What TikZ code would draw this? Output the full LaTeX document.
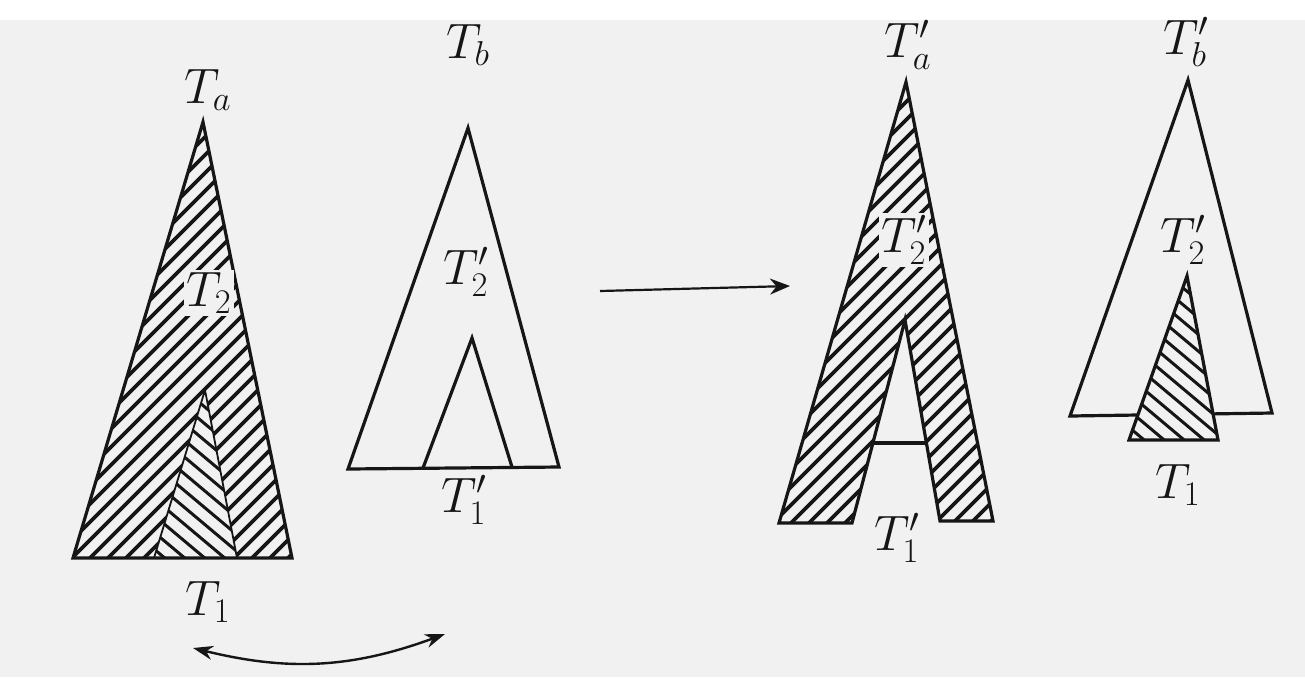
\documentclass[tikz,border=0pt]{standalone}
\usepackage{tikz}
\usetikzlibrary{positioning,calc,arrows.meta}
\usepackage{xcolor}
\definecolor{scanpaper}{RGB}{241,241,241}
\definecolor{inkblack}{RGB}{22,22,22}
\tikzset{
  treeline/.style={draw=inkblack,line width=1.6pt,line join=miter},
  thinedge/.style={draw=inkblack,line width=0.9pt},
  hatchfw/.style={draw=inkblack,line width=1.9pt},
  hatchbw/.style={draw=inkblack,line width=1.5pt},
  treelabel/.style={font=\fontsize{24}{28}\selectfont,text=inkblack,inner sep=1pt},
  swaparrow/.style={draw=inkblack,line width=1.2pt},
}
% hatching, to be used inside a clipped scope
\newcommand{\hatchfwd}{%
  \foreach \c in {0,18,...,1700} {\draw[hatchfw] (\c,0) -- ++(-700,700);}}
\newcommand{\hatchbwd}{%
  \foreach \c in {-800,-780,...,1400} {\draw[hatchbw] (\c,0) -- ++(766,643);}}

\begin{document}
\begin{tikzpicture}[x=0.5pt,y=-0.5pt]
  \useasboundingbox (0,0) rectangle (1305,677);
  \fill[white] (0,0) rectangle (1305,677);
  \fill[scanpaper] (0,20) rectangle (1305,677);

  % T_a with T_1 inside
  \begin{scope}
    \clip (203,122) -- (73,558) -- (292,558) -- cycle;
    \hatchfwd
  \end{scope}
  \fill[scanpaper] (205,390) -- (154,558) -- (237,558) -- cycle;
  \begin{scope}
    \clip (205,390) -- (154,558) -- (237,558) -- cycle;
    \hatchbwd
  \end{scope}
  \draw[thinedge] (154,558) -- (205,390) -- (237,558);
  \draw[treeline] (203,122) -- (73,558) -- (292,558) -- cycle;
  \node[treelabel] (ta) at (208,90) {$T_a$};
  \node[treelabel,fill=scanpaper] (ta2) at (209,293) {$T_2$};
  \node[treelabel] (ta1) at (208,602) {$T_1$};

  % T_b with T_1'
  \draw[treeline] (468,128) -- (348,469) -- (559,467) -- cycle;
  \draw[treeline] (423,468) -- (472,338) -- (512,467);
  \node[treelabel] (tb) at (468,45) {$T_b$};
  \node[treelabel] (tb2) at (466,272) {$T_2'$};
  \node[treelabel] (tb1) at (464,500) {$T_1'$};

  % transformation arrow
  \coordinate (mapfrom) at (600,291);
  \coordinate (mapto) at (790,286);
  \draw[draw=inkblack,line width=1.1pt,-{Stealth[length=10pt,width=8pt]}] (mapfrom) -- (mapto);

  % T_a' (T_1 cut out)
  \begin{scope}
    \clip (906,82) -- (779,523) -- (993,521) -- cycle;
    \hatchfwd
  \end{scope}
  \fill[scanpaper] (905,320) -- (852,524) -- (940,522) -- cycle;
  \draw[treeline] (906,82) -- (993,521) -- (940,521) -- (905,320) -- (852,523) -- (779,523) -- cycle;
  \draw[treeline] (873,443) -- (927,443);
  \node[treelabel] (tap) at (908,45) {$T_a'$};
  \node[treelabel,fill=scanpaper] (tap2) at (904,240) {$T_2'$};
  \node[treelabel] (tap1) at (897,538) {$T_1'$};

  % T_b' with T_1 grafted
  \draw[treeline] (1188,80) -- (1070,416) -- (1272,413) -- cycle;
  \fill[scanpaper] (1187,276) -- (1129,440) -- (1218,440) -- cycle;
  \begin{scope}
    \clip (1187,276) -- (1129,440) -- (1218,440) -- cycle;
    \hatchbwd
  \end{scope}
  \draw[treeline] (1187,276) -- (1129,440) -- (1218,440) -- cycle;
  \node[treelabel] (tbp) at (1186,42) {$T_b'$};
  \node[treelabel] (tbp2) at (1183,240) {$T_2'$};
  \node[treelabel] (tbp1) at (1178,485) {$T_1$};

  % swap of T_1 and T_1'
  \coordinate (swapl) at (193,648);
  \coordinate (swapr) at (445,634);
  \draw[swaparrow,{Stealth[length=10pt,width=7pt]}-{Stealth[length=10pt,width=7pt]}] (swapl) to[bend right=17] (swapr);
\end{tikzpicture}
\end{document}
